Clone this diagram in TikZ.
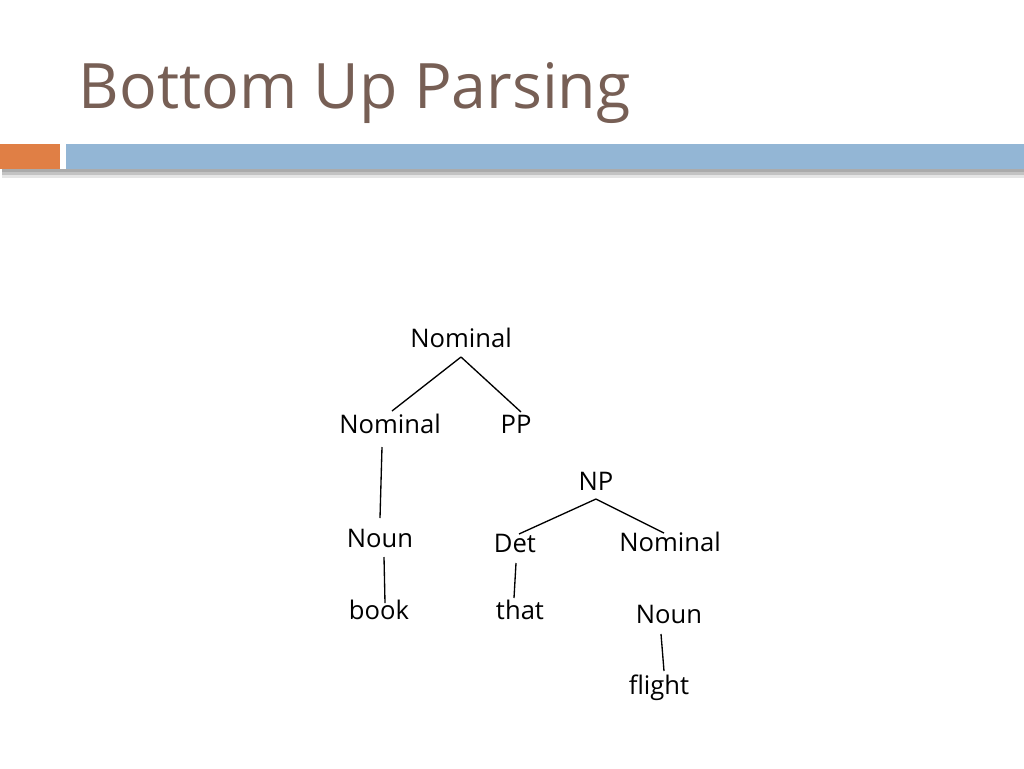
\documentclass[tikz,border=0pt]{standalone}
\usepackage{fontspec}
\setmainfont{Open Sans}
\usetikzlibrary{calc}
\definecolor{titlebrown}{HTML}{775F55}
\definecolor{barorange}{HTML}{E07F45}
\definecolor{barblue}{HTML}{93B6D5}

\begin{document}
\begin{tikzpicture}[x=0.75pt, y=-0.75pt, line width=1pt,
      every node/.append style={inner sep=0pt, anchor=base}]
    \tikzstyle{word} = [font=\fontsize{19.2}{21}\selectfont, color=black]
    \tikzstyle{title} = [font=\fontsize{47}{52}\selectfont, color=titlebrown, anchor=base west]
    \useasboundingbox (0,0) rectangle (1024,768);
    \fill[black, opacity=0.10] (2,169) rectangle (1024,178);
    \fill[black, opacity=0.15] (2,169) rectangle (1024,175);
    \fill[black, opacity=0.12] (2,169) rectangle (1024,172);
    \fill[barorange] (0,144) rectangle (60,169);
    \fill[barblue] (66,144) rectangle (1024,169);
    \node[title] (heading) at (78,108) {Bottom Up Parsing};
    \node[word] (top) at (461,347) {Nominal};
    \node[word] (nomL) at (390,433) {Nominal};
    \node[word] (PP) at (516,433) {PP};
    \node[word] (NP) at (596,490) {NP};
    \node[word] (nounL) at (380,547) {Noun};
    \node[word] (Det) at (515,552) {Det};
    \node[word] (nomR) at (670,551) {Nominal};
    \node[word] (book) at (379,619) {book};
    \node[word] (that) at (520,619) {that};
    \node[word] (nounR) at (669,623) {Noun};
    \node[word] (flight) at (659,694) {flight};
    \draw ($(top.base)+(0,10)$) -- ($(nomL.base)+(2,-22)$);
    \draw ($(top.base)+(0,10)$) -- ($(PP.base)+(5,-21)$);
    \draw ($(nomL.base)+(-8,14)$) -- ($(nounL.base)+(0,-29)$);
    \draw ($(NP.base)+(0,9)$) -- ($(Det.base)+(4,-18)$);
    \draw ($(NP.base)+(0,9)$) -- ($(nomR.base)+(-6,-18)$);
    \draw ($(nounL.base)+(4,10)$) -- ($(book.base)+(6,-16)$);
    \draw ($(Det.base)+(1,11)$) -- ($(that.base)+(-6,-21)$);
    \draw ($(nounR.base)+(-8,11)$) -- ($(flight.base)+(5,-23)$);
\end{tikzpicture}
\end{document}
